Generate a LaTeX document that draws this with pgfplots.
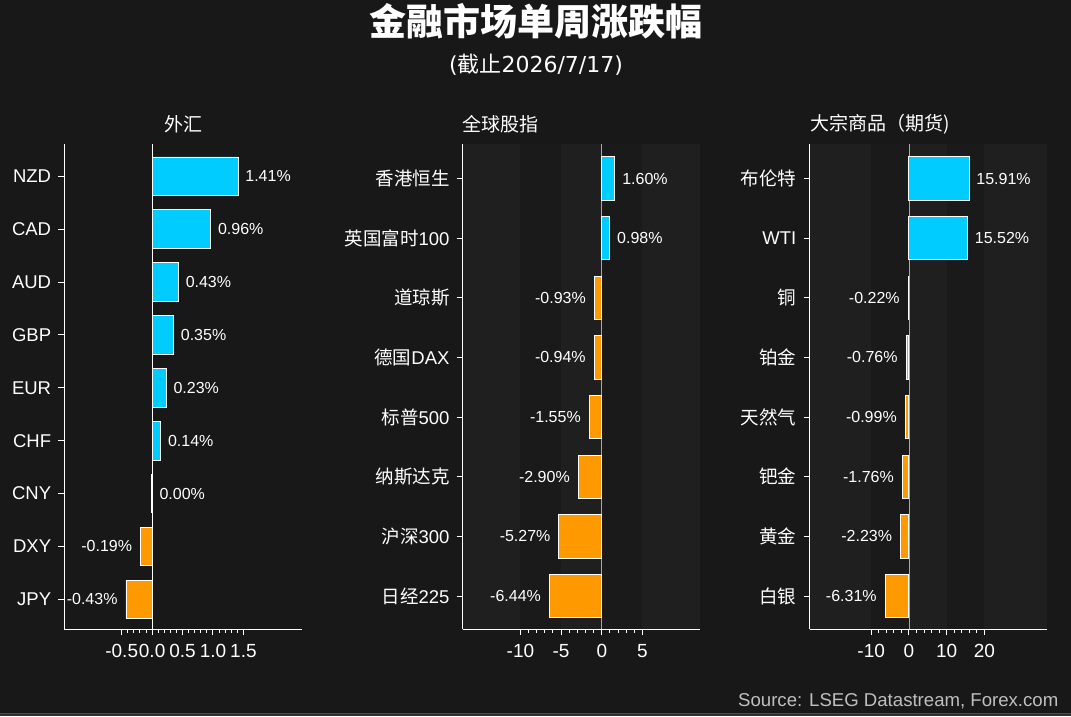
\documentclass[border=0pt]{standalone}
\usepackage{pgfplots}
\pgfplotsset{compat=1.18}
\usepackage{fontspec}
\setmainfont{Liberation Sans}
\newfontfamily\cjk{Noto Sans CJK SC}
\newfontfamily\dejavu{DejaVu Sans}
\definecolor{bg}{HTML}{181818}
\definecolor{band}{HTML}{1F1F1F}
\definecolor{dband}{HTML}{1A1A1A}
\definecolor{cyanbar}{HTML}{00CCFF}
\definecolor{orangebar}{HTML}{FF9900}
\definecolor{zerogray}{HTML}{A8A8A8}
\definecolor{srcgray}{HTML}{BFBFBF}
\pgfplotsset{
  panel/.style={
    scale only axis, width=237.5pt, height=485pt,
    anchor=south west,
    axis x line*=bottom, axis y line*=left,
    axis line style={white, line width=1pt},
    tick align=outside,
    major tick length=6pt, minor tick length=3.5pt,
    every tick/.style={white, line width=1pt},
    minor x tick num=4,
    minor y tick num=0,
    xticklabel style={font=\fontsize{19}{19}\selectfont, text=white, inner sep=0pt, anchor=north, yshift=-8.5pt},
    yticklabel style={font=\fontsize{18.5}{18.5}\selectfont, text=white, inner sep=0pt, anchor=east, xshift=-7pt},
    xbar, bar shift=0pt,
    clip=false,
  },
  pos/.style={fill=cyanbar, draw=white, line width=0.9pt,
    nodes near coords, point meta=explicit symbolic,
    every node near coord/.append style={anchor=west, inner sep=0pt, xshift=7pt,
      font=\fontsize{16}{16}\selectfont, text=white}},
  neg/.style={fill=orangebar, draw=white, line width=0.9pt,
    nodes near coords, point meta=explicit symbolic,
    every node near coord/.append style={anchor=east, inner sep=0pt, xshift=-8pt,
      font=\fontsize{16}{16}\selectfont, text=white}},
}
\begin{document}
\begin{tikzpicture}
\useasboundingbox (0pt,0pt) rectangle (1071pt,716pt);
\fill[bg] (0pt,0pt) rectangle (1071pt,716pt);
\fill[black!82] (0pt,0pt) rectangle (1071pt,3pt);
\draw[black!70, line width=0.8pt] (0pt,3pt) -- (1071pt,3pt);

\node[font=\cjk\bfseries\fontsize{37}{37}\selectfont, text=white] at (536pt,694.3pt) {金融市场单周涨跌幅};
\node[font=\fontsize{22}{22}\selectfont, text=white] at (536pt,651pt) {{\dejavu(}{\cjk 截止}{\dejavu 2026/7/17)}};
\node[font=\cjk\fontsize{19}{19}\selectfont, text=white] at (183.5pt,592pt) {外汇};
\node[font=\cjk\fontsize{19}{19}\selectfont, text=white, anchor=west, inner sep=0pt] at (462.7pt,592pt) {全球股指};
\node[font=\cjk\fontsize{19}{19}\selectfont, text=white, anchor=west, inner sep=0pt] at (810pt,592pt) {大宗商品（期货)};
\node[font=\fontsize{18.6}{18.6}\selectfont, text=srcgray, anchor=base east, inner sep=0pt] at (1058.5pt,9.3pt) {Source: LSEG Datastream, Forex.com};

% Panel 1: FX
\begin{axis}[panel, at={(64.3pt,86.7pt)},
  xmin=-1.443, xmax=2.459, ymin=-0.567, ymax=8.605,
  xtick={-0.5,0,0.5,1,1.5}, xticklabels={-0.5,0.0,0.5,1.0,1.5},
  ytick={0,...,8}, yticklabels={JPY,DXY,CNY,CHF,EUR,GBP,AUD,CAD,NZD},
  bar width=0.73]
\addplot[pos] coordinates {(0,2)[0.00\%] (0.14,3)[0.14\%] (0.23,4)[0.23\%] (0.35,5)[0.35\%] (0.43,6)[0.43\%] (0.96,7)[0.96\%] (1.41,8)[1.41\%]};
\addplot[neg] coordinates {(-0.43,0)[-0.43\%] (-0.19,1)[-0.19\%]};
\draw[white, line width=1.1pt] (axis cs:0,-0.567) -- (axis cs:0,8.605);
\draw[white, line width=1.6pt] (axis cs:0,1.635) -- (axis cs:0,2.365);
\end{axis}

% Panel 2: equities
\begin{axis}[panel, at={(462.7pt,86.7pt)},
  xmin=-17.09, xmax=12.09, ymin=-0.558, ymax=7.575,
  xtick={-10,-5,0,5}, xticklabels={-10,-5,0,5},
  ytick={0,...,7}, yticklabels={{{\cjk 日经}225},{{\cjk 沪深}300},{{\cjk 纳斯达克}},{{\cjk 标普}500},{{\cjk 德国}DAX},{{\cjk 道琼斯}},{{\cjk 英国富时}100},{{\cjk 香港恒生}}},
  bar width=0.726]
\fill[band] (axis cs:-17.09,-0.558) rectangle (axis cs:-10,7.575);
\fill[dband] (axis cs:-10,-0.558) rectangle (axis cs:-5,7.575);
\fill[band] (axis cs:-5,-0.558) rectangle (axis cs:0,7.575);
\fill[dband] (axis cs:0,-0.558) rectangle (axis cs:5,7.575);
\fill[band] (axis cs:5,-0.558) rectangle (axis cs:12.09,7.575);
\draw[zerogray, line width=0.8pt] (axis cs:0,-0.558) -- (axis cs:0,7.575);
\addplot[pos] coordinates {(0.98,6)[0.98\%] (1.60,7)[1.60\%]};
\addplot[neg] coordinates {(-6.44,0)[-6.44\%] (-5.27,1)[-5.27\%] (-2.90,2)[-2.90\%] (-1.55,3)[-1.55\%] (-0.94,4)[-0.94\%] (-0.93,5)[-0.93\%]};
\end{axis}

% Panel 3: commodities
\begin{axis}[panel, at={(809.5pt,86.7pt)},
  xmin=-26.35, xmax=36.6, ymin=-0.558, ymax=7.575,
  xtick={-10,0,10,20}, xticklabels={-10,0,10,20},
  ytick={0,...,7}, yticklabels={{{\cjk 白银}},{{\cjk 黄金}},{{\cjk 钯金}},{{\cjk 天然气}},{{\cjk 铂金}},{{\cjk 铜}},{WTI},{{\cjk 布伦特}}},
  bar width=0.726]
\fill[band] (axis cs:-26.35,-0.558) rectangle (axis cs:-10,7.575);
\fill[dband] (axis cs:-10,-0.558) rectangle (axis cs:0,7.575);
\fill[band] (axis cs:0,-0.558) rectangle (axis cs:10,7.575);
\fill[dband] (axis cs:10,-0.558) rectangle (axis cs:20,7.575);
\fill[band] (axis cs:20,-0.558) rectangle (axis cs:36.6,7.575);
\draw[zerogray, line width=0.8pt] (axis cs:0,-0.558) -- (axis cs:0,7.575);
\addplot[pos] coordinates {(15.52,6)[15.52\%] (15.91,7)[15.91\%]};
\addplot[neg] coordinates {(-6.31,0)[-6.31\%] (-2.23,1)[-2.23\%] (-1.76,2)[-1.76\%] (-0.99,3)[-0.99\%] (-0.76,4)[-0.76\%] (-0.22,5)[-0.22\%]};
\end{axis}
\end{tikzpicture}
\end{document}
